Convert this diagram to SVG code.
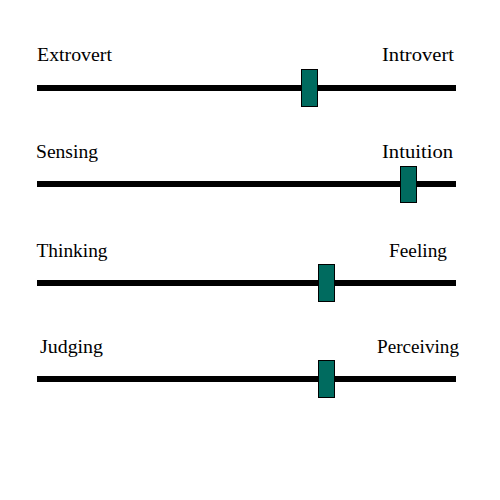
<svg xmlns="http://www.w3.org/2000/svg" width="500" height="500" viewBox="0 0 500 500">
<style>
.t{font-family:"Liberation Serif","Times New Roman",serif;font-size:18px;fill:#000}
.bar{stroke:#000;stroke-width:6}
.h{fill:#006B5F;stroke:#000;stroke-width:1}
</style>
<rect width="500" height="500" fill="#fff"/>
<g id="connectors">
<line class="bar" x1="37" y1="88" x2="456" y2="88"/>
<line class="bar" x1="37" y1="184" x2="456" y2="184"/>
<line class="bar" x1="37" y1="283" x2="456" y2="283"/>
<line class="bar" x1="37" y1="379" x2="456" y2="379"/>
</g>
<g id="row1">
<text class="t" x="37" y="61" textLength="75" lengthAdjust="spacingAndGlyphs">Extrovert</text>
<text class="t" x="382" y="61" textLength="72" lengthAdjust="spacingAndGlyphs">Introvert</text>
<rect class="h" x="301.5" y="69.5" width="16" height="37"/>
</g>
<g id="row2">
<text class="t" x="36" y="158" textLength="62" lengthAdjust="spacingAndGlyphs">Sensing</text>
<text class="t" x="382" y="158" textLength="71" lengthAdjust="spacingAndGlyphs">Intuition</text>
<rect class="h" x="400.5" y="166.5" width="16" height="36"/>
</g>
<g id="row3">
<text class="t" x="36.5" y="257" textLength="71" lengthAdjust="spacingAndGlyphs">Thinking</text>
<text class="t" x="389" y="257" textLength="58" lengthAdjust="spacingAndGlyphs">Feeling</text>
<rect class="h" x="318.5" y="264.5" width="16" height="37"/>
</g>
<g id="row4">
<text class="t" x="40" y="353" textLength="63" lengthAdjust="spacingAndGlyphs">Judging</text>
<text class="t" x="377" y="353" textLength="82" lengthAdjust="spacingAndGlyphs">Perceiving</text>
<rect class="h" x="318.5" y="360.5" width="16" height="37"/>
</g>
</svg>
